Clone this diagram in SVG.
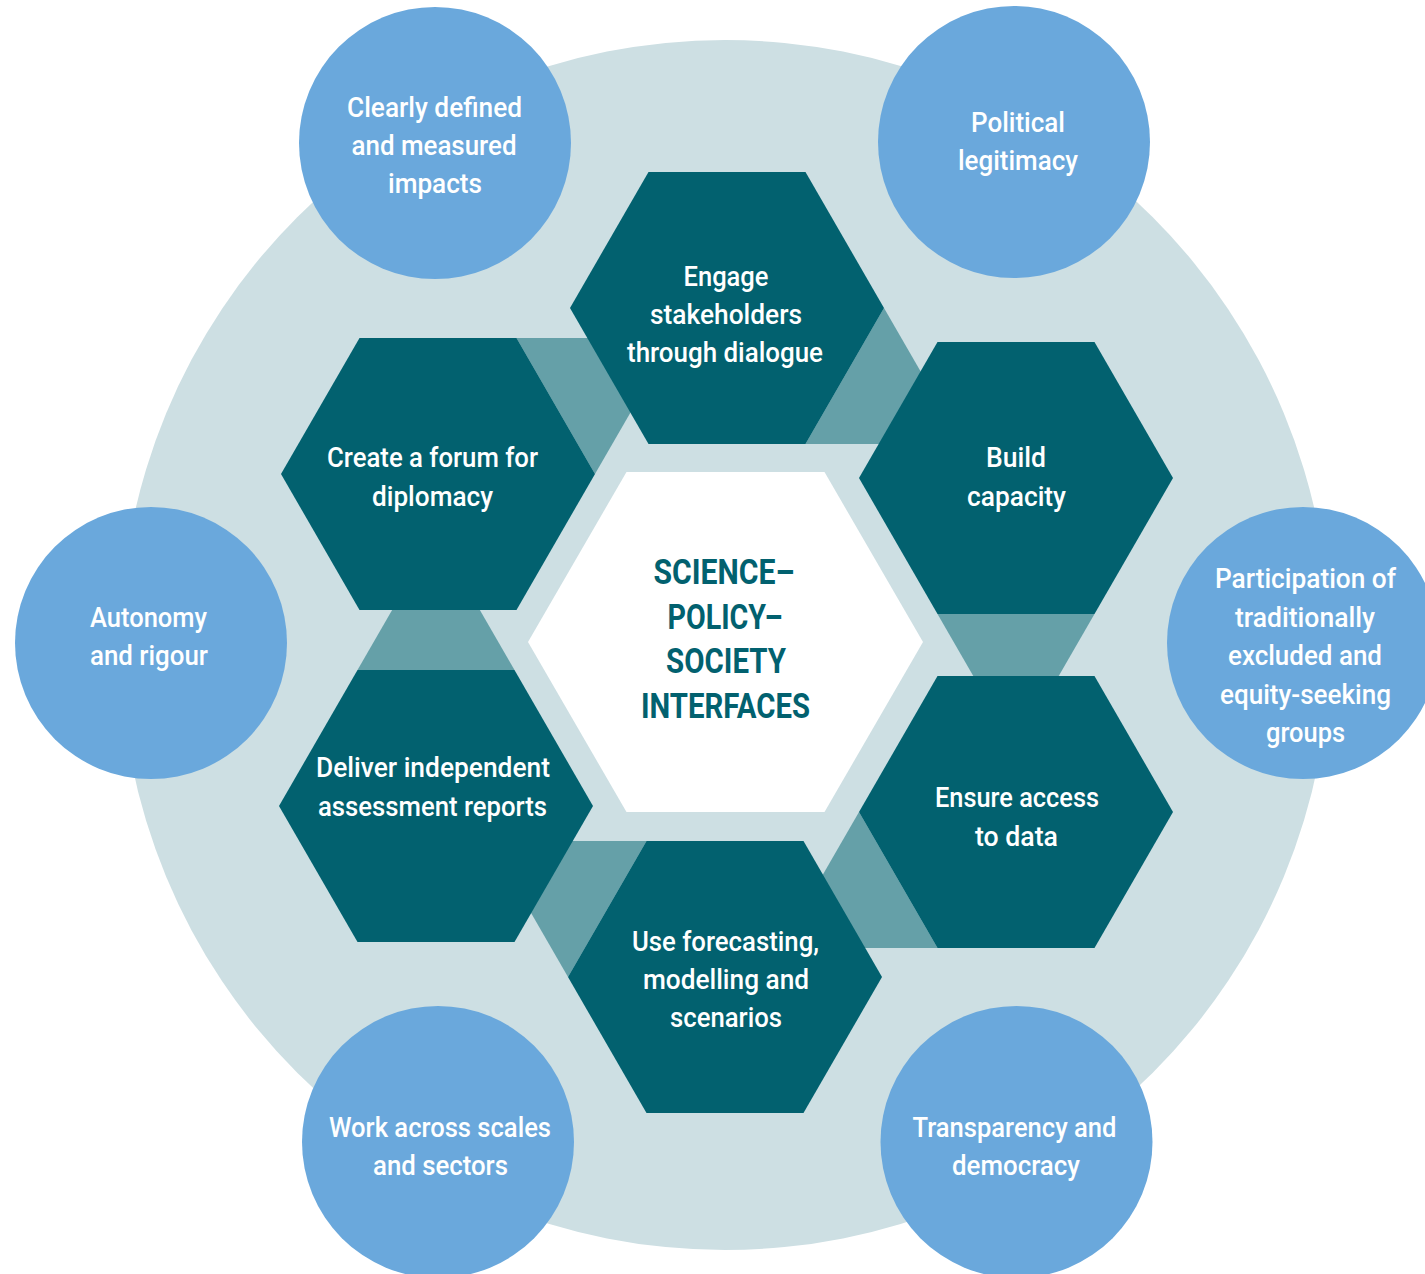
<svg xmlns="http://www.w3.org/2000/svg" width="1425" height="1274" viewBox="0 0 1425 1274">
  <style>
    .ring { fill: #cddfe3; }
    .hex { fill: #02616f; }
    .core { fill: #ffffff; }
    .band { fill: #65a0a8; }
    .pill { fill: #6aa8dc; }
    .lbl { font-family: Roboto, "Liberation Sans", "DejaVu Sans", sans-serif; font-size: 28px; font-weight: 500; fill: #ffffff; text-anchor: middle; }
    .title { font-family: Roboto, "Liberation Sans", "DejaVu Sans", sans-serif; font-size: 35px; font-weight: 700; fill: #02616f; text-anchor: middle; }
  </style>

  <rect width="1425" height="1274" fill="#ffffff"/>

  <!-- large background disc -->
  <circle class="ring" cx="725" cy="645" r="605"/>

  <!-- connecting bands between neighbouring hexagons -->
  <g id="connectors">
    <polygon class="band" points="516.5,338 595,474 673.5,338"/>
    <polygon class="band" points="884,308 805.5,444 962.5,444"/>
    <polygon class="band" points="937.5,614 1094.5,614 1016,750"/>
    <polygon class="band" points="859,812 937.5,948 780.5,948"/>
    <polygon class="band" points="568,977 646.5,841 489.5,841"/>
    <polygon class="band" points="357.5,670 514.5,670 436,534"/>
  </g>

  <!-- centre hexagon -->
  <g id="core">
    <polygon class="core" points="528,642 626.5,472 824.5,472 923,642 824.5,812 626.5,812"/>
    <text class="title" x="724" y="584" textLength="141" lengthAdjust="spacingAndGlyphs">SCIENCE–</text>
    <text class="title" x="725" y="629" textLength="115" lengthAdjust="spacingAndGlyphs">POLICY–</text>
    <text class="title" x="726" y="673" textLength="120" lengthAdjust="spacingAndGlyphs">SOCIETY</text>
    <text class="title" x="725.5" y="718" textLength="169" lengthAdjust="spacingAndGlyphs">INTERFACES</text>
  </g>

  <!-- ring of activity hexagons -->
  <g id="engage">
    <polygon class="hex" points="570,308 648.5,172 805.5,172 884,308 805.5,444 648.5,444"/>
    <text class="lbl" x="726" y="286" textLength="85" lengthAdjust="spacingAndGlyphs">Engage</text>
    <text class="lbl" x="726" y="324" textLength="152" lengthAdjust="spacingAndGlyphs">stakeholders</text>
    <text class="lbl" x="725" y="362" textLength="196" lengthAdjust="spacingAndGlyphs">through dialogue</text>
  </g>
  <g id="build">
    <polygon class="hex" points="859,478 937.5,342 1094.5,342 1173,478 1094.5,614 937.5,614"/>
    <text class="lbl" x="1016" y="467" textLength="60" lengthAdjust="spacingAndGlyphs">Build</text>
    <text class="lbl" x="1016.5" y="506" textLength="99" lengthAdjust="spacingAndGlyphs">capacity</text>
  </g>
  <g id="ensure">
    <polygon class="hex" points="859,812 937.5,676 1094.5,676 1173,812 1094.5,948 937.5,948"/>
    <text class="lbl" x="1017" y="807" textLength="164" lengthAdjust="spacingAndGlyphs">Ensure access</text>
    <text class="lbl" x="1016.5" y="846" textLength="83" lengthAdjust="spacingAndGlyphs">to data</text>
  </g>
  <g id="forecast">
    <polygon class="hex" points="568,977 646.5,841 803.5,841 882,977 803.5,1113 646.5,1113"/>
    <text class="lbl" x="725.5" y="951" textLength="187" lengthAdjust="spacingAndGlyphs">Use forecasting,</text>
    <text class="lbl" x="726" y="989" textLength="166" lengthAdjust="spacingAndGlyphs">modelling and</text>
    <text class="lbl" x="726" y="1027" textLength="112" lengthAdjust="spacingAndGlyphs">scenarios</text>
  </g>
  <g id="deliver">
    <polygon class="hex" points="279,806 357.5,670 514.5,670 593,806 514.5,942 357.5,942"/>
    <text class="lbl" x="433" y="777" textLength="234" lengthAdjust="spacingAndGlyphs">Deliver independent</text>
    <text class="lbl" x="432.5" y="816" textLength="229" lengthAdjust="spacingAndGlyphs">assessment reports</text>
  </g>
  <g id="forum">
    <polygon class="hex" points="281,474 359.5,338 516.5,338 595,474 516.5,610 359.5,610"/>
    <text class="lbl" x="432.5" y="467" textLength="211" lengthAdjust="spacingAndGlyphs">Create a forum for</text>
    <text class="lbl" x="432.5" y="506" textLength="121" lengthAdjust="spacingAndGlyphs">diplomacy</text>
  </g>

  <!-- outer principle discs -->
  <g id="impacts">
    <circle class="pill" cx="435" cy="143" r="136"/>
    <text class="lbl" x="434.5" y="117" textLength="175" lengthAdjust="spacingAndGlyphs">Clearly defined</text>
    <text class="lbl" x="434" y="155" textLength="165" lengthAdjust="spacingAndGlyphs">and measured</text>
    <text class="lbl" x="435" y="193" textLength="94" lengthAdjust="spacingAndGlyphs">impacts</text>
  </g>
  <g id="legitimacy">
    <circle class="pill" cx="1014" cy="142" r="136"/>
    <text class="lbl" x="1018" y="132" textLength="94" lengthAdjust="spacingAndGlyphs">Political</text>
    <text class="lbl" x="1018" y="170" textLength="120" lengthAdjust="spacingAndGlyphs">legitimacy</text>
  </g>
  <g id="participation">
    <circle class="pill" cx="1303" cy="643" r="136"/>
    <text class="lbl" x="1305.5" y="588" textLength="181" lengthAdjust="spacingAndGlyphs">Participation of</text>
    <text class="lbl" x="1305" y="627" textLength="140" lengthAdjust="spacingAndGlyphs">traditionally</text>
    <text class="lbl" x="1305" y="665" textLength="154" lengthAdjust="spacingAndGlyphs">excluded and</text>
    <text class="lbl" x="1305.5" y="704" textLength="171" lengthAdjust="spacingAndGlyphs">equity-seeking</text>
    <text class="lbl" x="1305.5" y="742" textLength="79" lengthAdjust="spacingAndGlyphs">groups</text>
  </g>
  <g id="transparency">
    <circle class="pill" cx="1016.5" cy="1142" r="136"/>
    <text class="lbl" x="1014.5" y="1137" textLength="204" lengthAdjust="spacingAndGlyphs">Transparency and</text>
    <text class="lbl" x="1016" y="1175" textLength="128" lengthAdjust="spacingAndGlyphs">democracy</text>
  </g>
  <g id="scales">
    <circle class="pill" cx="438" cy="1142" r="136"/>
    <text class="lbl" x="440" y="1137" textLength="222" lengthAdjust="spacingAndGlyphs">Work across scales</text>
    <text class="lbl" x="440.5" y="1175" textLength="135" lengthAdjust="spacingAndGlyphs">and sectors</text>
  </g>
  <g id="autonomy">
    <circle class="pill" cx="151" cy="643" r="136"/>
    <text class="lbl" x="148.5" y="627" textLength="117" lengthAdjust="spacingAndGlyphs">Autonomy</text>
    <text class="lbl" x="149" y="665" textLength="118" lengthAdjust="spacingAndGlyphs">and rigour</text>
  </g>
</svg>
